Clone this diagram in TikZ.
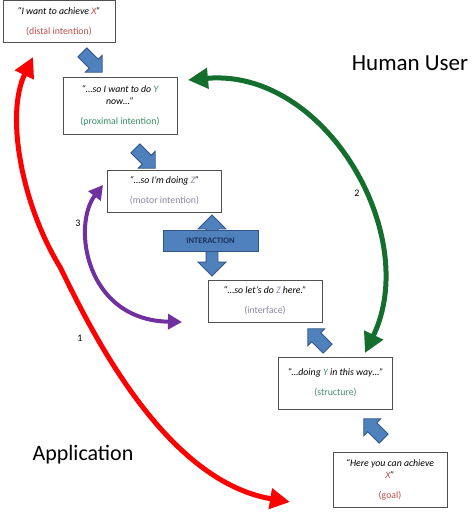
\documentclass[tikz,border=0pt]{standalone}
\usepackage{fontspec}
\setmainfont{Carlito}
\usetikzlibrary{positioning,arrows.meta,shapes.arrows}
\definecolor{boxBorder}{RGB}{80,80,80}
\definecolor{xRed}{RGB}{192,80,77}
\definecolor{yGreen}{RGB}{60,140,100}
\definecolor{zGray}{RGB}{140,135,165}
\definecolor{sTeal}{RGB}{70,140,120}
\definecolor{blockBlue}{RGB}{79,129,189}
\definecolor{blockEdge}{RGB}{50,85,135}
\definecolor{interText}{RGB}{25,50,90}
\definecolor{loopRed}{RGB}{255,0,0}
\definecolor{loopGreen}{RGB}{20,110,45}
\definecolor{loopPurple}{RGB}{112,48,160}
\tikzset{
  stage/.style={rectangle,draw=boxBorder,line width=1pt,fill=white,
    minimum width=114pt,align=center,font=\fontsize{9.8}{12}\selectfont,
    inner sep=2pt},
  blockarr/.style={single arrow,draw=blockEdge,fill=blockBlue,
    line width=0.8pt,minimum height=28pt,inner sep=6pt,
    single arrow head extend=5.5pt},
  dblarr/.style={double arrow,draw=blockEdge,fill=blockBlue,
    line width=0.8pt,minimum height=61pt,inner sep=5.5pt,
    double arrow head extend=8pt},
  interbox/.style={rectangle,draw=blockEdge,fill=blockBlue,line width=0.8pt,
    minimum width=95pt,minimum height=21pt,inner sep=1pt,
    font=\fontsize{8.5}{10}\selectfont\bfseries,text=interText},
  side/.style={font=\fontsize{22}{26}\selectfont,inner sep=0pt},
  numlbl/.style={font=\fontsize{10}{12}\selectfont,inner sep=0pt},
  loop/.style={line width=#1,
    {Triangle[length=20pt,width=20pt]}-{Triangle[length=20pt,width=20pt]}},
}

\begin{document}
\begin{tikzpicture}[x=1pt,y=-1pt]
\useasboundingbox (0,0) rectangle (474,519);

% =====================================================================
%  STAGES — from intention (top left) down to the goal (bottom right)
% =====================================================================
\node[stage,minimum width=112pt,minimum height=42pt] (distal) at (59,21.5)
  {\itshape “I want to achieve \textcolor{xRed}{X}”\\[8pt]
   \textcolor{xRed}{(distal intention)}};
\node[stage,minimum height=57pt] (prox) at (120,105.5)
  {\itshape “…so I want to do \textcolor{yGreen}{Y}\\
   \itshape now…”\\[8pt]
   \textcolor{yGreen}{(proximal intention)}};
\node[stage,minimum height=42pt] (motor) at (164.5,191)
  {\itshape “…so I’m doing \textcolor{zGray}{Z}”\\[8pt]
   \textcolor{zGray}{(motor intention)}};
\node[stage,minimum height=42pt] (iface) at (265,301)
  {\itshape “…so let’s do \textcolor{zGray}{Z} here.”\\[8pt]
   \textcolor{zGray}{(interface)}};
\node[stage,minimum height=52pt] (struct) at (335.5,383)
  {\itshape “…doing \textcolor{sTeal}{Y} in this way…”\\[8pt]
   \textcolor{sTeal}{(structure)}};
\node[stage,minimum height=55pt] (goal) at (390,479.5)
  {\itshape “Here you can achieve\\
   \itshape \textcolor{xRed}{X}”\\[8pt]
   \textcolor{xRed}{(goal)}};

% --- small block arrows between stages ---
\node[blockarr,rotate=-45] (b1) at (90,60)   {};
\node[blockarr,rotate=-45] (b2) at (143,156) {};
\node[blockarr,rotate=135] (b3) at (320,341) {};
\node[blockarr,rotate=135] (b4) at (376,431) {};

% --- interaction ---
\node[dblarr,rotate=90] (interArr) at (212,245.5) {};
\node[interbox] (inter) at (210.5,240.5) {INTERACTION};

% =====================================================================
%  LOOPS — numbered double-headed arcs
% =====================================================================
\coordinate (redTop) at (33,57);
\coordinate (redMid) at (60,267);
\coordinate (redEnd) at (290,502);
\coordinate (greenTop) at (188,80);
\coordinate (greenEnd) at (365,353);
\coordinate (purpleTop) at (103,185);
\coordinate (purpleEnd) at (182,322);

\draw[loop=5pt,draw=loopRed] (redTop)
  .. controls (5,115) and (22,205) .. (redMid)
  .. controls (85,317) and (160,480) .. (redEnd);
\draw[loop=5pt,draw=loopGreen] (greenTop)
  .. controls (325,68) and (422,235) .. (greenEnd);
\draw[loop=4pt,draw=loopPurple,
  {Triangle[length=14pt,width=15pt]}-{Triangle[length=14pt,width=15pt]}]
  (purpleTop) .. controls (72,225) and (85,320) .. (purpleEnd);

\node[numlbl] (n1) at (80,338) {1};
\node[numlbl] (n2) at (357,193) {2};
\node[numlbl] (n3) at (78,223) {3};

% --- sides ---
\node[side,font=\fontsize{23}{27}\selectfont] (user) at (410,63) {Human User};
\node[side] (app) at (83,455) {Application};

\end{tikzpicture}
\end{document}
